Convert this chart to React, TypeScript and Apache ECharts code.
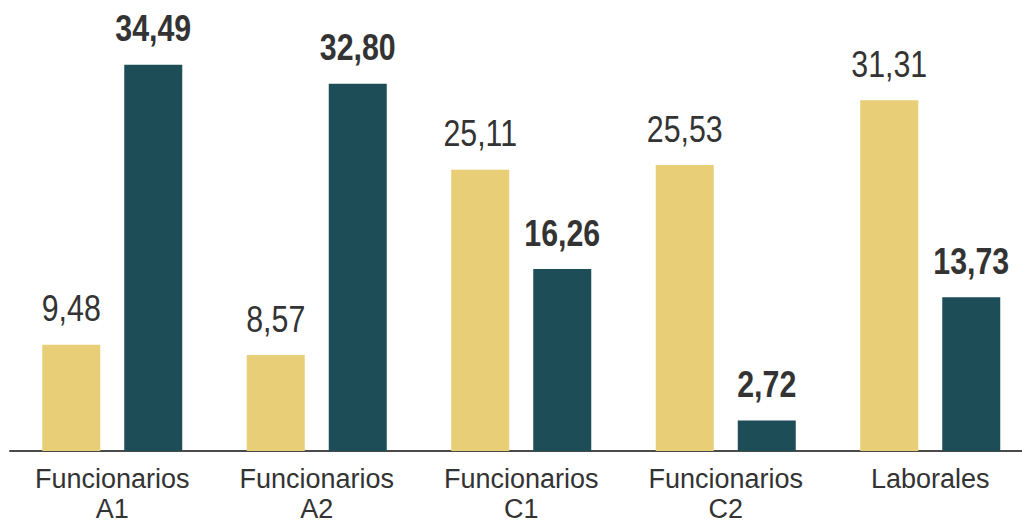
import React, { useEffect, useRef } from "react";
import * as echarts from "echarts";

const categories = ["Funcionarios\nA1", "Funcionarios\nA2", "Funcionarios\nC1", "Funcionarios\nC2", "Laborales"];
const seriesYellow = [9.48, 8.57, 25.11, 25.53, 31.31];
const seriesTeal = [34.49, 32.8, 16.26, 2.72, 13.73];

const FONT = '"Liberation Sans", Arial, sans-serif';
const fmt = (v: number) => Number(v).toFixed(2).replace(".", ",");

const BAR_W = 58;
const BAR_GAP = 24;
const OFFSET = (BAR_W + BAR_GAP) / 2;

function labelSeries(values: number[], side: number, weight: string) {
  return {
    type: "custom",
    data: values.map((v, i) => [i, v]),
    silent: true,
    z: 5,
    renderItem: (params: any, api: any) => {
      const v = api.value(1);
      const pt = api.coord([api.value(0), v]);
      return {
        type: "text",
        x: pt[0] + side * OFFSET,
        y: pt[1] - 18,
        scaleX: 0.82,
        style: {
          x: 0,
          y: 0,
          text: fmt(v),
          fill: "#333333",
          font: `${weight} 37px ${FONT}`,
          align: "center",
          verticalAlign: "bottom",
        },
      };
    },
  };
}

export default function App() {
  const ref = useRef<HTMLDivElement>(null);
  useEffect(() => {
    if (!ref.current) return;
    const chart = echarts.init(ref.current, undefined, { renderer: "svg" });
    chart.setOption({
      animation: false,
      grid: { left: 10, top: 3, right: 7.5, height: 448 },
      xAxis: {
        type: "category",
        data: categories,
        axisLine: { lineStyle: { color: "#4a4a4a", width: 2 } },
        axisTick: { show: false },
        axisLabel: {
          color: "#333333",
          fontFamily: FONT,
          fontSize: 27,
          lineHeight: 30,
          margin: 13,
          interval: 0,
        },
      },
      yAxis: {
        type: "value",
        min: 0,
        max: 40,
        show: false,
        splitLine: { show: false },
      },
      series: [
        {
          type: "bar",
          data: seriesYellow,
          barWidth: BAR_W,
          barGap: `${(BAR_GAP / BAR_W) * 100}%`,
          itemStyle: { color: "#E8CE76" },
        },
        {
          type: "bar",
          data: seriesTeal,
          barWidth: BAR_W,
          itemStyle: { color: "#1D4D56" },
        },
        labelSeries(seriesYellow, -1, "normal"),
        labelSeries(seriesTeal, 1, "bold"),
      ],
    });
    return () => chart.dispose();
  }, []);
  return (
    <div
      ref={ref}
      style={{ position: "fixed", left: 0, top: 0, width: 1040, height: 526, background: "#ffffff" }}
    />
  );
}
